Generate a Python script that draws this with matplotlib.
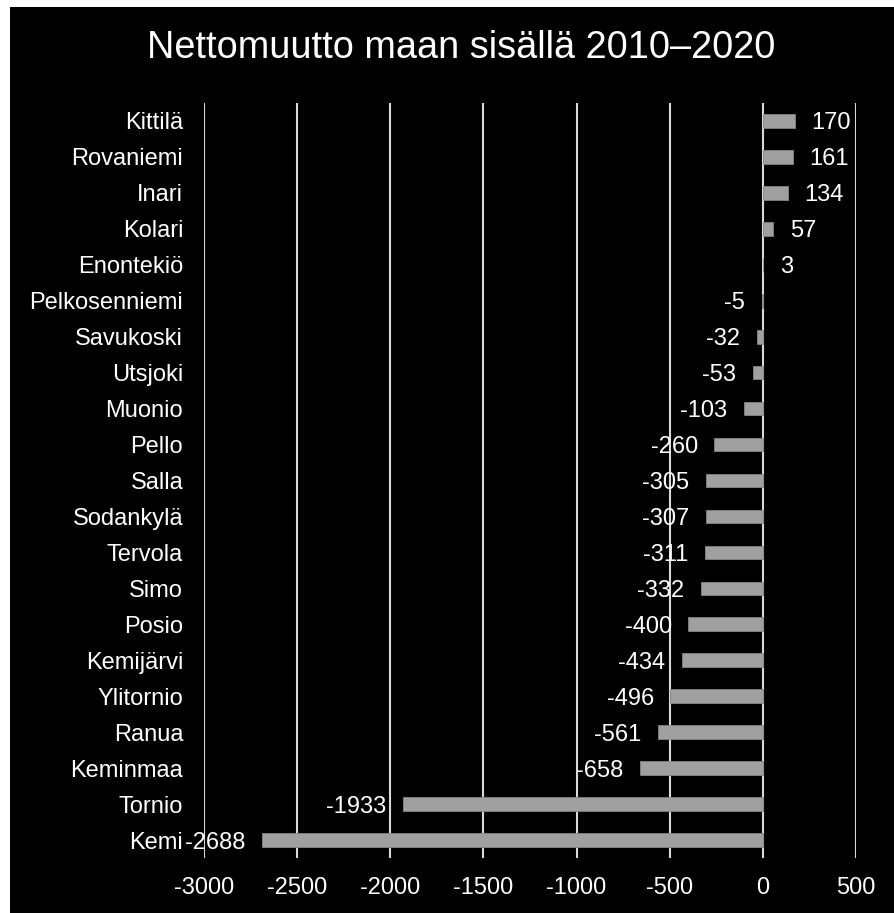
import numpy as np
import matplotlib
matplotlib.use("Agg")
import matplotlib.pyplot as plt
from matplotlib.patches import Rectangle

plt.rcParams['font.family'] = ['Liberation Sans', 'DejaVu Sans']

# data, top to bottom as in the chart
kunnat = ['Kittilä', 'Rovaniemi', 'Inari', 'Kolari', 'Enontekiö', 'Pelkosenniemi',
          'Savukoski', 'Utsjoki', 'Muonio', 'Pello', 'Salla', 'Sodankylä', 'Tervola',
          'Simo', 'Posio', 'Kemijärvi', 'Ylitornio', 'Ranua', 'Keminmaa', 'Tornio', 'Kemi']
muutto = [170, 161, 134, 57, 3, -5, -32, -53, -103, -260, -305, -307, -311,
          -332, -400, -434, -496, -561, -658, -1933, -2688]
xticks = [-3000, -2500, -2000, -1500, -1000, -500, 0, 500]

fig = plt.figure(figsize=(8.94, 9.13), dpi=100, facecolor='white')
# black chart area, white strip on top and left like the screenshot
fig.patches.append(Rectangle((10/894, 0), 1, 1 - 7/913, transform=fig.transFigure,
                             facecolor='black', edgecolor='none', zorder=-10))

ax = fig.add_axes([204/894, 55/913, 652/894, 755/913])
ax.set_facecolor('black')

y = np.arange(len(kunnat))
ax.barh(y, muutto, height=0.38, color='#a0a0a0', edgecolor='#858585', linewidth=0.6, zorder=3)

for yi, v in zip(y, muutto):
    if v >= 0:
        ax.annotate(str(v), (v, yi), xytext=(12, 0), textcoords='offset points',
                    ha='left', va='center_baseline', color='white', fontsize=17, zorder=4)
    else:
        ax.annotate(str(v), (v, yi), xytext=(-12, 0), textcoords='offset points',
                    ha='right', va='center_baseline', color='white', fontsize=17, zorder=4)

ax.set_xlim(-3000, 500)
ax.set_ylim(len(kunnat) - 0.5, -0.5)
ax.set_xticks(xticks)
ax.set_xticklabels([str(t) for t in xticks])
ax.set_yticks(y)
ax.set_yticklabels(kunnat, va='center_baseline')
ax.tick_params(axis='x', length=0, pad=14, colors='white', labelsize=17)
ax.tick_params(axis='y', length=0, pad=15, colors='white', labelsize=17)
ax.grid(axis='x', color='#d9d9d9', linewidth=1.5, zorder=1)
for s in ax.spines.values():
    s.set_visible(False)

fig.text(461/894, 1 - 48/913, 'Nettomuutto maan sisällä 2010–2020', ha='center', va='center',
         color='white', fontsize=27.3)

fig.savefig('out.png', dpi=100, facecolor=fig.get_facecolor())
